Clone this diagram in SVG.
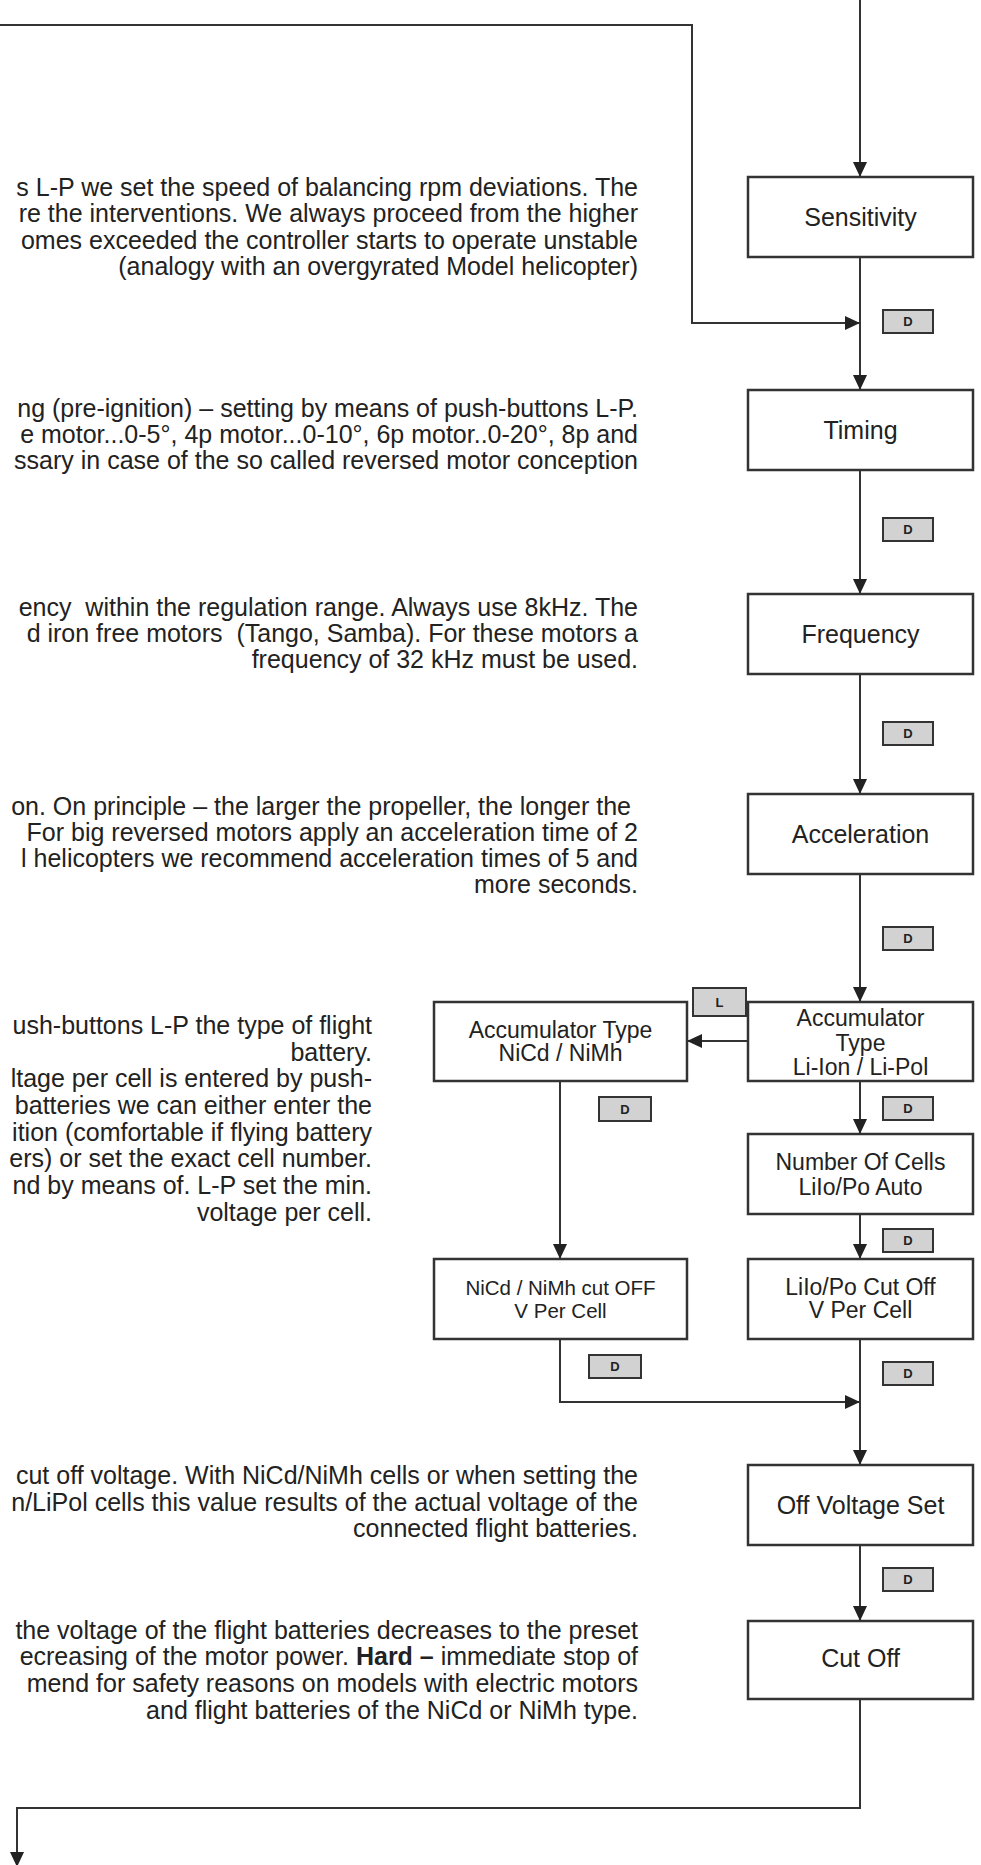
<svg xmlns="http://www.w3.org/2000/svg" width="981" height="1865" viewBox="0 0 981 1865">
<style>
.ln{stroke:#333;stroke-width:2;fill:none}
.box{fill:#fff;stroke:#333;stroke-width:2.5}
.key{fill:#d2d2d2;stroke:#333;stroke-width:2}
.kt{font-family:"Liberation Sans",Arial,sans-serif;font-weight:bold;font-size:13px;text-anchor:middle;fill:#222}
.lbl{font-family:"Liberation Sans",Arial,sans-serif;font-size:25px;text-anchor:middle;fill:#222}
.sm{font-size:23px}
.xs{font-size:20.5px}
.body{font-family:"Liberation Sans",Arial,sans-serif;font-size:25px;text-anchor:end;fill:#222;white-space:pre}
</style>
<defs>
<marker id="ah" markerUnits="userSpaceOnUse" markerWidth="15" markerHeight="14" refX="15" refY="7" orient="auto">
<path d="M0,0 L15,7 L0,14 z" fill="#222"/>
</marker>
</defs>
<rect width="981" height="1865" fill="#fff"/>

<g id="connectors">
<path class="ln" d="M860,0 V177" marker-end="url(#ah)"/>
<path class="ln" d="M860,257 V390" marker-end="url(#ah)"/>
<path class="ln" d="M0,25 H692 V323 H860" marker-end="url(#ah)"/>
<path class="ln" d="M860,470 V594" marker-end="url(#ah)"/>
<path class="ln" d="M860,674 V794" marker-end="url(#ah)"/>
<path class="ln" d="M860,874 V1002" marker-end="url(#ah)"/>
<path class="ln" d="M748,1041 H687" marker-end="url(#ah)"/>
<path class="ln" d="M860,1081 V1134" marker-end="url(#ah)"/>
<path class="ln" d="M860,1214 V1259" marker-end="url(#ah)"/>
<path class="ln" d="M560,1081 V1259" marker-end="url(#ah)"/>
<path class="ln" d="M560,1339 V1402 H860" marker-end="url(#ah)"/>
<path class="ln" d="M860,1339 V1465" marker-end="url(#ah)"/>
<path class="ln" d="M860,1545 V1621" marker-end="url(#ah)"/>
<path class="ln" d="M860,1699 V1808 H17 V1867" marker-end="url(#ah)"/>
</g>

<g id="keys">
<g><rect class="key" x="883" y="310" width="50" height="23"/><text class="kt" x="908" y="326">D</text></g>
<g><rect class="key" x="883" y="518" width="50" height="23"/><text class="kt" x="908" y="534">D</text></g>
<g><rect class="key" x="883" y="722" width="50" height="23"/><text class="kt" x="908" y="738">D</text></g>
<g><rect class="key" x="883" y="927" width="50" height="23"/><text class="kt" x="908" y="943">D</text></g>
<g><rect class="key" x="693" y="988" width="53" height="28"/><text class="kt" x="719.5" y="1007">L</text></g>
<g><rect class="key" x="883" y="1097" width="50" height="23"/><text class="kt" x="908" y="1113">D</text></g>
<g><rect class="key" x="599" y="1097" width="52" height="24"/><text class="kt" x="625" y="1114">D</text></g>
<g><rect class="key" x="883" y="1229" width="50" height="23"/><text class="kt" x="908" y="1245">D</text></g>
<g><rect class="key" x="589" y="1355" width="52" height="23"/><text class="kt" x="615" y="1371">D</text></g>
<g><rect class="key" x="883" y="1362" width="50" height="23"/><text class="kt" x="908" y="1378">D</text></g>
<g><rect class="key" x="883" y="1568" width="50" height="23"/><text class="kt" x="908" y="1584">D</text></g>
</g>

<g id="sensitivity"><rect class="box" x="748" y="177" width="225" height="80"/><text class="lbl" x="860.5" y="226">Sensitivity</text></g>
<g id="timing"><rect class="box" x="748" y="390" width="225" height="80"/><text class="lbl" x="860.5" y="439">Timing</text></g>
<g id="frequency"><rect class="box" x="748" y="594" width="225" height="80"/><text class="lbl" x="860.5" y="643">Frequency</text></g>
<g id="acceleration"><rect class="box" x="748" y="794" width="225" height="80"/><text class="lbl" x="860.5" y="843">Acceleration</text></g>
<g id="acc-li"><rect class="box" x="748" y="1002" width="225" height="79"/><text class="lbl sm" x="860.5" y="1026">Accumulator</text><text class="lbl sm" x="860.5" y="1051">Type</text><text class="lbl sm" x="860.5" y="1075">Li-Ion / Li-Pol</text></g>
<g id="acc-nicd"><rect class="box" x="434" y="1002" width="253" height="79"/><text class="lbl sm" x="560.5" y="1038">Accumulator Type</text><text class="lbl sm" x="560.5" y="1061">NiCd / NiMh</text></g>
<g id="cells"><rect class="box" x="748" y="1134" width="225" height="80"/><text class="lbl sm" x="860.5" y="1170">Number Of Cells</text><text class="lbl sm" x="860.5" y="1195">LiIo/Po Auto</text></g>
<g id="li-cutoff"><rect class="box" x="748" y="1259" width="225" height="80"/><text class="lbl sm" x="860.5" y="1295">LiIo/Po Cut Off</text><text class="lbl sm" x="860.5" y="1318">V Per Cell</text></g>
<g id="nicd-cutoff"><rect class="box" x="434" y="1259" width="253" height="80"/><text class="lbl xs" x="560.5" y="1295">NiCd / NiMh cut OFF</text><text class="lbl xs" x="560.5" y="1318">V Per Cell</text></g>
<g id="off-voltage"><rect class="box" x="748" y="1465" width="225" height="80"/><text class="lbl" x="860.5" y="1514">Off Voltage Set</text></g>
<g id="cut-off"><rect class="box" x="748" y="1621" width="225" height="78"/><text class="lbl" x="860.5" y="1667">Cut Off</text></g>

<g id="texts">
<text class="body" x="638" y="196">s L-P we set the speed of balancing rpm deviations. The</text>
<text class="body" x="638" y="222">re the interventions. We always proceed from the higher</text>
<text class="body" x="638" y="249">omes exceeded the controller starts to operate unstable</text>
<text class="body" x="638" y="275">(analogy with an overgyrated Model helicopter)</text>

<text class="body" x="638" y="417">ng (pre-ignition) – setting by means of push-buttons L-P.</text>
<text class="body" x="638" y="443">e motor...0-5°, 4p motor...0-10°, 6p motor..0-20°, 8p and</text>
<text class="body" x="638" y="469">ssary in case of the so called reversed motor conception</text>

<text class="body" x="638" y="616" xml:space="preserve">ency  within the regulation range. Always use 8kHz. The</text>
<text class="body" x="638" y="642" xml:space="preserve">d iron free motors  (Tango, Samba). For these motors a</text>
<text class="body" x="638" y="668">frequency of 32 kHz must be used.</text>

<text class="body" x="631" y="815">on. On principle – the larger the propeller, the longer the</text>
<text class="body" x="638" y="841">For big reversed motors apply an acceleration time of 2</text>
<text class="body" x="638" y="867">l helicopters we recommend acceleration times of 5 and</text>
<text class="body" x="638" y="893">more seconds.</text>

<text class="body" x="372" y="1034">ush-buttons L-P the type of flight</text>
<text class="body" x="372" y="1061">battery.</text>
<text class="body" x="372" y="1087">ltage per cell is entered by push-</text>
<text class="body" x="372" y="1114">batteries we can either enter the</text>
<text class="body" x="372" y="1141">ition (comfortable if flying battery</text>
<text class="body" x="372" y="1167">ers) or set the exact cell number.</text>
<text class="body" x="372" y="1194">nd by means of. L-P set the min.</text>
<text class="body" x="372" y="1221">voltage per cell.</text>

<text class="body" x="638" y="1484">cut off voltage. With NiCd/NiMh cells or when setting the</text>
<text class="body" x="638" y="1511">n/LiPol cells this value results of the actual voltage of the</text>
<text class="body" x="638" y="1537">connected flight batteries.</text>

<text class="body" x="638" y="1639">the voltage of the flight batteries decreases to the preset</text>
<text class="body" x="638" y="1665">ecreasing of the motor power. <tspan font-weight="bold">Hard –</tspan> immediate stop of</text>
<text class="body" x="638" y="1692">mend for safety reasons on models with electric motors</text>
<text class="body" x="638" y="1719">and flight batteries of the NiCd or NiMh type.</text>
</g>
</svg>
